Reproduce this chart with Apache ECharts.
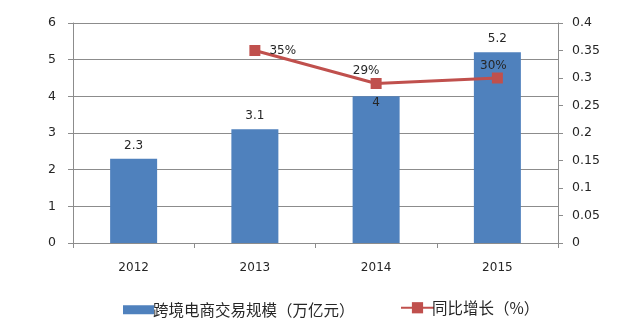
<!DOCTYPE html>
<html>
<head>
<meta charset="utf-8">
<script src="https://cdn.jsdelivr.net/npm/echarts@6/dist/echarts.min.js"></script>
<style>
  html, body { margin: 0; padding: 0; background: #fff; }
  #chart { width: 640px; height: 330px; }
</style>
</head>
<body>
<div id="chart"></div>
<script>
// Cross-border e-commerce volume (trillion yuan) and year-on-year growth
var years = ['2012', '2013', '2014', '2015'];
var volume = [2.3, 3.1, 4, 5.2];
var growth = [null, 0.35, 0.29, 0.30];
var growthText = ['', '35%', '29%', '30%'];
var volumeName = '跨境电商交易规模（万亿元）';
var growthName = '同比增长（%）';

var textColor = '#262626';
var lineGray = '#8c8c8c';
var numFont = 'DejaVu Sans';
var cjkFont = '"Noto Sans CJK SC"';

// per-point label placement for the bars and the growth line
var barLabelPos = ['top', 'top', 'insideTop', 'top'];
var lineLabelPos = [null, 'right', 'top', 'top'];
var lineLabelOffset = [null, [0, 0], [-10, 0], [-4, 0]];

var chart = echarts.init(document.getElementById('chart'));

var barData = volume.map(function (v, i) {
  return {
    value: v,
    label: { position: barLabelPos[i], distance: barLabelPos[i] === 'insideTop' ? 1 : 7 }
  };
});
var lineData = growth.map(function (v, i) {
  if (v === null) return null;
  return {
    value: v,
    label: {
      position: lineLabelPos[i],
      offset: lineLabelOffset[i],
      distance: lineLabelPos[i] === 'right' ? 9 : 1,
      formatter: growthText[i]
    }
  };
});

chart.setOption({
  animation: false,
  backgroundColor: '#ffffff',
  grid: { left: 73, right: 82, top: 23, bottom: 87 },
  legend: [
    {
      data: [{ name: volumeName, icon: 'rect' }],
      left: 118, top: 297,
      itemWidth: 31, itemHeight: 9,
      textStyle: { fontFamily: cjkFont, fontSize: 15.5, color: textColor, padding: [0, 0, 0, -6] }
    },
    {
      data: [{ name: growthName }],
      left: 395, top: 295,
      itemWidth: 33, itemHeight: 14,
      textStyle: { fontFamily: cjkFont, fontSize: 15.5, color: textColor, padding: [0, 0, 0, -7] }
    }
  ],
  xAxis: {
    type: 'category',
    data: years,
    axisLine: { lineStyle: { color: lineGray, width: 1 } },
    axisTick: { show: true, length: 5, lineStyle: { color: lineGray } },
    axisLabel: { margin: 19, color: textColor, fontFamily: numFont, fontSize: 12 }
  },
  yAxis: [
    {
      type: 'value', min: 0, max: 6, interval: 1,
      axisLine: { show: true, lineStyle: { color: lineGray } },
      axisTick: { show: true, length: 5, lineStyle: { color: lineGray } },
      axisLabel: { margin: 17, color: textColor, fontFamily: numFont, fontSize: 12.5 },
      splitLine: { lineStyle: { color: lineGray, width: 1 } }
    },
    {
      type: 'value', min: 0, max: 0.4, interval: 0.05,
      axisLine: { show: true, lineStyle: { color: lineGray } },
      axisTick: { show: true, length: 5, lineStyle: { color: lineGray } },
      axisLabel: { margin: 14, color: textColor, fontFamily: numFont, fontSize: 12.5 },
      splitLine: { show: false }
    }
  ],
  series: [
    {
      name: volumeName,
      type: 'bar',
      data: barData,
      barWidth: 47,
      itemStyle: { color: '#4F81BD' },
      label: { show: true, color: textColor, fontFamily: numFont, fontSize: 12 }
    },
    {
      name: growthName,
      type: 'line',
      yAxisIndex: 1,
      data: lineData,
      symbol: 'rect',
      symbolSize: 11,
      lineStyle: { color: '#C0504D', width: 3 },
      itemStyle: { color: '#C0504D' },
      label: { show: true, color: textColor, fontFamily: numFont, fontSize: 12 }
    }
  ]
});
</script>
</body>
</html>
